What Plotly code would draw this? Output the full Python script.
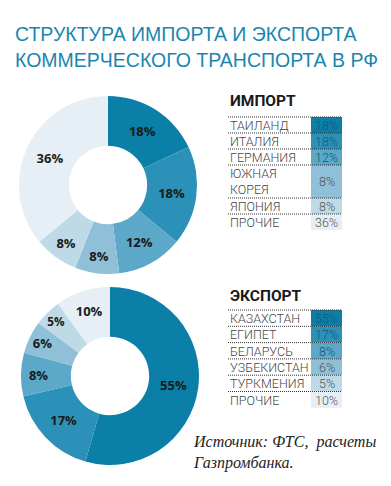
import plotly.graph_objects as go

W, H = 391, 486

title_lines = ["СТРУКТУРА ИМПОРТА И ЭКСПОРТА", "КОММЕРЧЕСКОГО ТРАНСПОРТА В РФ"]

import_labels = ["ТАИЛАНД", "ИТАЛИЯ", "ГЕРМАНИЯ", "ЮЖНАЯ<br>КОРЕЯ", "ЯПОНИЯ", "ПРОЧИЕ"]
import_values = [18, 18, 12, 8, 8, 36]

export_labels = ["КАЗАХСТАН", "ЕГИПЕТ", "БЕЛАРУСЬ", "УЗБЕКИСТАН", "ТУРКМЕНИЯ", "ПРОЧИЕ"]
export_values = [55, 17, 8, 6, 5, 10]

shades = ["#0b7fa8", "#2b91b8", "#5ba8c9", "#8fc0d8", "#bfdae7", "#e5eff5"]

source_lines = ["Источник: ФТС,\u00a0 расчеты", "Газпромбанка."]

def px(x):
    return x / W

def py(y):
    return 1 - y / H

fig = go.Figure()

def add_pie(values, labels, cx, cy, r):
    fig.add_trace(go.Pie(
        values=values,
        labels=[l.replace("<br>", " ") for l in labels],
        sort=False,
        direction="clockwise",
        rotation=0,
        hole=0.44,
        marker=dict(colors=shades, line=dict(width=0)),
        texttemplate="%{value}%",
        textposition="inside",
        insidetextorientation="horizontal",
        textfont=dict(family="Open Sans", size=13, color="#1a1a1a", weight="bold"),
        domain=dict(x=[px(cx - r), px(cx + r)], y=[py(cy + r), py(cy - r)]),
        showlegend=False,
        hoverinfo="label+value",
    ))

add_pie(import_values, import_labels, 108, 185, 89)
add_pie(export_values, export_labels, 110, 376, 89)

shapes = []
annotations = []

for i, t in enumerate(title_lines):
    annotations.append(dict(
        x=px(13), y=py(34 + i * 26), xref="paper", yref="paper",
        xanchor="left", yanchor="middle", showarrow=False, text=t,
        font=dict(family="Liberation Sans, Arial", size=19.5, color="#1a86b0"),
    ))

LABEL_FONT = "Roboto"

def add_table(header, header_y, labels, values, top, heights):
    annotations.append(dict(
        x=px(228), y=py(header_y), xref="paper", yref="paper",
        xanchor="left", yanchor="middle", showarrow=False, text=header,
        font=dict(family=LABEL_FONT, size=15.5, color="#1a1a1a", weight="bold"),
    ))
    y = top
    for i, (lab, val) in enumerate(zip(labels, values)):
        h = heights[i]
        shapes.append(dict(type="rect", xref="paper", yref="paper",
                           x0=px(311), x1=px(342), y0=py(y), y1=py(y + h),
                           fillcolor=shades[i], line=dict(width=0), layer="below"))
        shapes.append(dict(type="line", xref="paper", yref="paper",
                           x0=px(228), x1=px(342), y0=py(y), y1=py(y),
                           line=dict(color="#333333", width=1, dash="1px,1px")))
        annotations.append(dict(
            x=px(228), y=py(y + h / 2 + 0.5), xref="paper", yref="paper",
            xanchor="left", yanchor="middle", showarrow=False, text=lab, align="left",
            font=dict(family=LABEL_FONT, size=12.5, color="#444444", weight=300),
        ))
        annotations.append(dict(
            x=px(326.5), y=py(y + h / 2 + 0.5), xref="paper", yref="paper",
            xanchor="center", yanchor="middle", showarrow=False, text=f"{val}%",
            font=dict(family=LABEL_FONT, size=12.5, weight=300,
                      color="#14587a" if i < 3 else "#555555"),
        ))
        y += h

add_table("ИМПОРТ", 101, import_labels, import_values, 117,
          [16, 16, 16, 33, 16, 16])
add_table("ЭКСПОРТ", 296, export_labels, export_values, 310,
          [16.3, 16.3, 16.3, 16.3, 16.3, 16.3])

for i, t in enumerate(source_lines):
    annotations.append(dict(
        x=px(191), y=py(442 + i * 21), xref="paper", yref="paper",
        xanchor="left", yanchor="middle", showarrow=False, text=t,
        font=dict(family="Liberation Serif, DejaVu Serif", size=16, color="#222222", style="italic"),
    ))

fig.update_layout(
    width=W, height=H,
    margin=dict(l=0, r=0, t=0, b=0),
    paper_bgcolor="white", plot_bgcolor="white",
    shapes=shapes, annotations=annotations,
)

fig.write_html("out.html", config={"displayModeBar": False},
               post_script="document.body.style.margin='0';document.body.style.overflow='hidden';")
